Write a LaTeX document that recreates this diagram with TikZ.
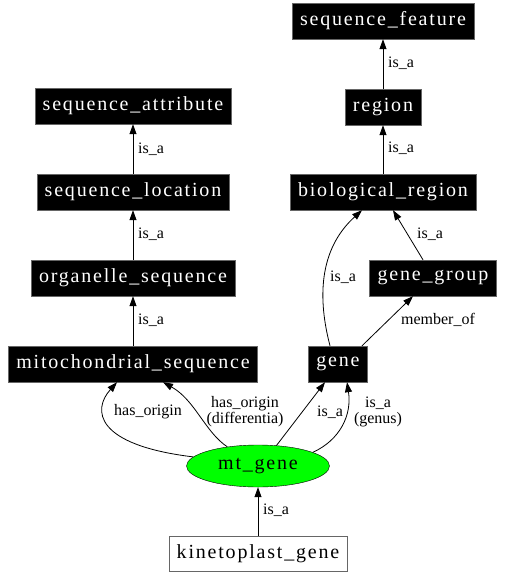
\documentclass[tikz,border=0pt]{standalone}
\usepackage{fontspec}
\setmainfont{Liberation Serif}
\newfontfamily\boxfont{Liberation Serif}[LetterSpace=9]
\usetikzlibrary{arrows.meta,shapes.geometric}
\definecolor{Ink}{HTML}{000000}
\definecolor{Rim}{HTML}{666666}
\definecolor{Lime}{HTML}{00FF00}
\tikzset{
  term/.style={
    draw=Rim, fill=Ink, text=white, inner xsep=8pt, inner ysep=0pt,
    minimum height=36pt, font=\boxfont\fontsize{20}{22}\selectfont
  },
  focus/.style={
    ellipse, draw=Ink, fill=Lime, minimum width=143pt, minimum height=42pt,
    inner sep=0pt, font=\boxfont\fontsize{20}{22}\selectfont
  },
  leaf/.style={
    draw=Rim, fill=white, inner xsep=8pt, inner ysep=0pt,
    minimum height=35pt, font=\boxfont\fontsize{20}{22}\selectfont
  },
  rel/.style={-{Triangle[length=10pt,width=7pt]}, line width=0.8pt, draw=Ink},
  lbl/.style={align=center, inner sep=0pt, font=\fontsize{16}{16}\selectfont}
}

\begin{document}
\begin{tikzpicture}[x=1pt,y=-1pt]
  \path[fill=white] (0,0) rectangle (504,576);
  \useasboundingbox (0,0) rectangle (504,576);
  % right column
  \node[term] (sfeat) at (383,21) {sequence\_feature};
  \node[term] (region) at (383,107) {region};
  \node[term] (bioreg) at (383,192) {biological\_region};
  \node[term] (ggroup) at (433,278) {gene\_group};
  \node[term] (gene) at (338,364) {gene};
  % left column
  \node[term] (sattr) at (133,106) {sequence\_attribute};
  \node[term] (sloc) at (133,192) {sequence\_location};
  \node[term] (organelle) at (133,278) {organelle\_sequence};
  \node[term] (mito) at (133,364) {mitochondrial\_sequence};
  % focus and child
  \node[focus] (mtgene) at (258,466) {mt\_gene};
  \node[leaf] (kineto) at (258,554) {kinetoplast\_gene};

  \draw[rel] (region) -- (sfeat) node[lbl] at (401,63) {is\_a};
  \draw[rel] (bioreg) -- (region) node[lbl] at (401,148) {is\_a};
  \draw[rel] (sloc) -- (sattr) node[lbl] at (151,149) {is\_a};
  \draw[rel] (organelle) -- (sloc) node[lbl] at (151,234) {is\_a};
  \draw[rel] (mito) -- (organelle) node[lbl] at (151,320) {is\_a};
  \draw[rel] ([xshift=-10pt]ggroup.north) -- ([xshift=10pt]bioreg.south)
    node[lbl] at (430,234) {is\_a};
  \draw[rel] ([xshift=-8pt]gene.north) .. controls (318,300) and (318,250) .. ([xshift=-21pt]bioreg.south)
    node[lbl] at (343,277) {is\_a};
  \draw[rel] ([xshift=24pt]gene.north) -- ([xshift=-20pt]ggroup.south)
    node[lbl] at (438,320) {member\_of};
  % edges leaving mt_gene
  \draw[rel] (mtgene.172) .. controls (95,445) and (92,410) .. ([xshift=-16pt]mito.south)
    node[lbl] at (148,412) {has\_origin};
  \draw[rel] (mtgene.148) .. controls (205,432) and (195,400) .. ([xshift=30pt]mito.south)
    node[lbl] at (245,412) {has\_origin\\(differentia)};
  \draw[rel] (mtgene.48) -- ([xshift=-13pt]gene.south)
    node[lbl] at (330,412) {is\_a};
  \draw[rel] (mtgene.14) .. controls (340,440) and (352,415) .. ([xshift=9pt]gene.south)
    node[lbl] at (378,412) {is\_a\\(genus)};
  \draw[rel] (kineto) -- (mtgene) node[lbl] at (276,510) {is\_a};
\end{tikzpicture}
\end{document}
